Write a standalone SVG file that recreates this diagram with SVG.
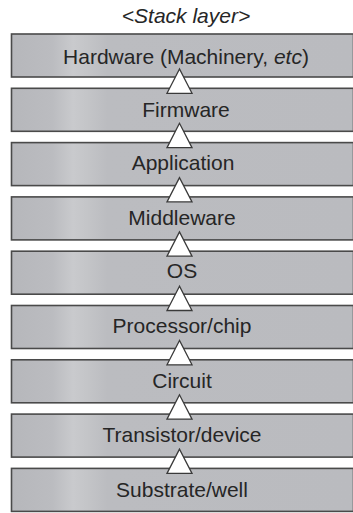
<svg xmlns="http://www.w3.org/2000/svg" width="353" height="513" viewBox="0 0 353 513">
  <defs>
    <linearGradient id="layerFill" x1="0" y1="0" x2="1" y2="0">
      <stop offset="0" stop-color="#b6b7bb"/>
      <stop offset="0.12" stop-color="#bbbcc0"/>
      <stop offset="0.18" stop-color="#c9cacd"/>
      <stop offset="0.22" stop-color="#c4c5c8"/>
      <stop offset="0.28" stop-color="#bbbcc0"/>
      <stop offset="1" stop-color="#babbbf"/>
    </linearGradient>
  </defs>
  <style>
    .layer rect { fill: url(#layerFill); stroke: #4a4a4a; stroke-width: 1.6; }
    .layer text { font-family: "Liberation Sans", Arial, sans-serif; font-size: 21px; fill: #262626; text-anchor: middle; }
    .title { font-family: "Liberation Sans", Arial, sans-serif; font-size: 21px; font-style: italic; fill: #262626; text-anchor: middle; }
    .arrow { fill: #ffffff; stroke: #3a3a3a; stroke-width: 1.3; stroke-linejoin: miter; }
  </style>
  <rect width="353" height="513" fill="#ffffff"/>

  <text class="title" x="186" y="23">&lt;Stack layer&gt;</text>

  <g id="hardware" class="layer">
    <rect x="11.5" y="34" width="342" height="43"/>
    <text x="186" y="64">Hardware (Machinery, <tspan font-style="italic">etc</tspan>)</text>
  </g>
  <g id="firmware" class="layer">
    <rect x="11.5" y="88.3" width="342" height="43"/>
    <text x="186" y="117">Firmware</text>
  </g>
  <g id="application" class="layer">
    <rect x="11.5" y="142.6" width="342" height="43"/>
    <text x="183" y="170">Application</text>
  </g>
  <g id="middleware" class="layer">
    <rect x="11.5" y="196.9" width="342" height="43"/>
    <text x="182" y="224.5">Middleware</text>
  </g>
  <g id="os" class="layer">
    <rect x="11.5" y="251.2" width="342" height="43"/>
    <text x="182" y="278">OS</text>
  </g>
  <g id="processor" class="layer">
    <rect x="11.5" y="305.5" width="342" height="43"/>
    <text x="182" y="333">Processor/chip</text>
  </g>
  <g id="circuit" class="layer">
    <rect x="11.5" y="359.8" width="342" height="43"/>
    <text x="182" y="387.5">Circuit</text>
  </g>
  <g id="transistor" class="layer">
    <rect x="11.5" y="414.1" width="342" height="43"/>
    <text x="182" y="442">Transistor/device</text>
  </g>
  <g id="substrate" class="layer">
    <rect x="11.5" y="468.4" width="342" height="43"/>
    <text x="182" y="496.5">Substrate/well</text>
  </g>

  <!-- upward arrows between adjacent layers -->
  <g id="connectors">
    <polygon class="arrow" points="179.5,69 167,93.3 192,93.3"/>
    <polygon class="arrow" points="179.5,123.3 167,147.6 192,147.6"/>
    <polygon class="arrow" points="179.5,177.6 167,201.9 192,201.9"/>
    <polygon class="arrow" points="179.5,231.9 167,256.2 192,256.2"/>
    <polygon class="arrow" points="179.5,286.2 167,310.5 192,310.5"/>
    <polygon class="arrow" points="179.5,340.5 167,364.8 192,364.8"/>
    <polygon class="arrow" points="179.5,394.8 167,419.1 192,419.1"/>
    <polygon class="arrow" points="179.5,449.1 167,473.4 192,473.4"/>
  </g>
</svg>
